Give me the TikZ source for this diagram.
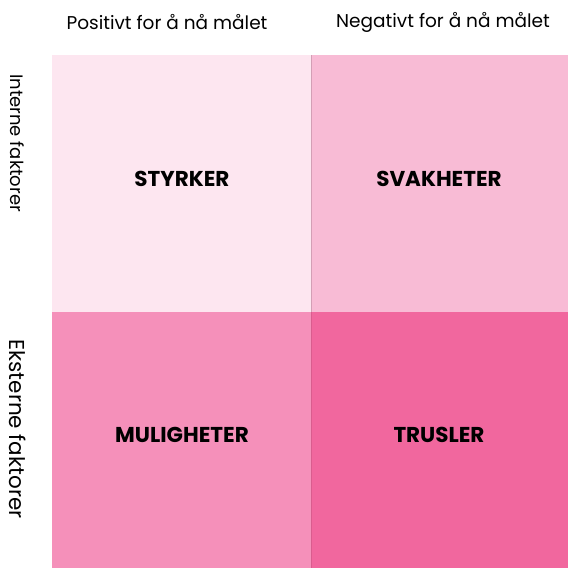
\documentclass[tikz,border=0pt]{standalone}
\usepackage{fontspec}
\setmainfont{Poppins}
\definecolor{styrkercol}{HTML}{FDE6F0}
\definecolor{svakhetcol}{HTML}{F8BBD5}
\definecolor{mulighetcol}{HTML}{F590BA}
\definecolor{truslercol}{HTML}{F1679E}
\tikzset{
  celltext/.style={font=\fontsize{21.5}{25}\selectfont\bfseries},
  headtext/.style={font=\fontsize{18.5}{22}\selectfont},
  sidetext/.style={rotate=-90},
}
\begin{document}
\begin{tikzpicture}[x=1pt,y=-1pt]
  \useasboundingbox[fill=white] (0,0) rectangle (568,570);
  % the four fields
  \fill[styrkercol] (52,55) rectangle (311,312);
  \fill[svakhetcol] (311,55) rectangle (568,312);
  \fill[mulighetcol] (52,312) rectangle (311,568);
  \fill[truslercol] (311,312) rectangle (568,568);
  \draw[line width=0.6pt,svakhetcol!85!black] (311,55) -- (311,312);
  \draw[line width=0.6pt,truslercol!90!black] (311,312) -- (311,568);
  \node[celltext] (styrker) at (182,179) {STYRKER};
  \node[celltext] (svakheter) at (439,179) {SVAKHETER};
  \node[celltext] (muligheter) at (182,435) {MULIGHETER};
  \node[celltext] (trusler) at (439,435) {TRUSLER};
  % headings
  \node[headtext] (positiv) at (167,22) {Positivt for å nå målet};
  \node[headtext] (negativ) at (443,22) {Negativt for å nå målet};
  \node[sidetext,font=\fontsize{18}{22}\selectfont] (interne) at (17,143) {Interne faktorer};
  \node[sidetext,font=\fontsize{21.5}{25}\selectfont] (eksterne) at (18,429) {Eksterne faktorer};
\end{tikzpicture}
\end{document}
